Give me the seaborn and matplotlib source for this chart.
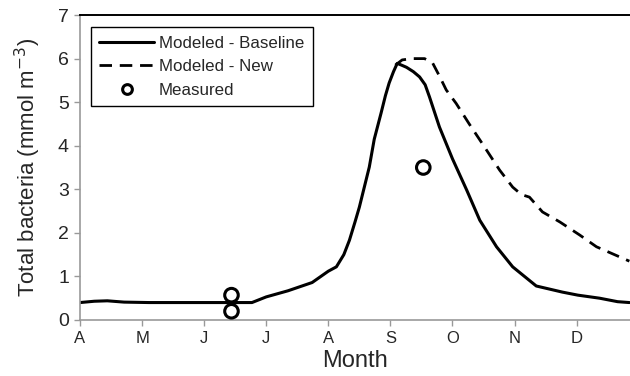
import numpy as np
import pandas as pd
import matplotlib
matplotlib.use("Agg")
import matplotlib.pyplot as plt
from matplotlib.lines import Line2D
import seaborn as sns

# ---- data (x in months since start of April) ----
base_month = [0.00, 0.23, 0.44, 0.71, 1.11, 1.92, 2.77, 3.00, 3.35, 3.74, 4.00, 4.13,
              4.25, 4.34, 4.43, 4.50, 4.58, 4.66, 4.74, 4.85, 4.92, 4.98, 5.05, 5.11,
              5.18, 5.26, 5.37, 5.47, 5.56, 5.63, 5.79, 6.00, 6.23, 6.44, 6.71, 6.97,
              7.35, 7.77, 8.02, 8.37, 8.66, 8.85]
base_value = [0.40, 0.43, 0.44, 0.41, 0.40, 0.40, 0.40, 0.53, 0.67, 0.86, 1.12, 1.22,
              1.50, 1.83, 2.25, 2.59, 3.05, 3.51, 4.15, 4.75, 5.15, 5.44, 5.70, 5.89,
              5.85, 5.80, 5.70, 5.58, 5.40, 5.12, 4.43, 3.70, 2.98, 2.29, 1.68, 1.22,
              0.78, 0.64, 0.57, 0.50, 0.42, 0.40]

new_month = [5.08, 5.19, 5.35, 5.55, 5.68, 5.79, 5.90, 6.06, 6.27, 6.48, 6.76, 6.97,
             7.11, 7.24, 7.45, 7.73, 8.05, 8.32, 8.69, 8.85]
new_value = [5.85, 5.97, 6.00, 6.00, 5.90, 5.60, 5.28, 4.97, 4.50, 4.05, 3.44, 3.05,
             2.88, 2.82, 2.48, 2.25, 1.95, 1.68, 1.45, 1.35]

meas_month = [2.44, 2.44, 5.53]
meas_value = [0.57, 0.20, 3.50]

tick_labels = ["A", "M", "J", "J", "A", "S", "O", "N", "D"]

# ---- plot ----
sns.set_style("ticks")
plt.rcParams["font.family"] = ["Liberation Sans", "DejaVu Sans"]

fig = plt.figure(figsize=(6.30, 3.76), dpi=100)
ax = fig.add_axes([0.127, 0.149, 0.873, 0.811])

base_df = pd.DataFrame({"month": base_month, "value": base_value})
new_df = pd.DataFrame({"month": new_month, "value": new_value})
meas_df = pd.DataFrame({"month": meas_month, "value": meas_value})

sns.lineplot(data=new_df, x="month", y="value", ax=ax, color="black", lw=2.0,
             estimator=None, sort=False, linestyle=(0, (4.5, 2.8)))
sns.lineplot(data=base_df, x="month", y="value", ax=ax, color="black", lw=2.2,
             estimator=None, sort=False)
sns.scatterplot(data=meas_df, x="month", y="value", ax=ax, s=95, marker="o",
                facecolor="none", edgecolor="black", linewidth=2.2, zorder=5)

ax.set_xlim(0, 8.86)
ax.set_ylim(0, 7)
ax.set_xticks(range(len(tick_labels)))
ax.set_xticklabels(tick_labels, fontsize=12)
ax.set_yticks(range(0, 8))
ax.tick_params(axis="y", labelsize=14, length=4, color="#999999", width=1, pad=4)
ax.tick_params(axis="x", length=4, color="#999999", width=1, pad=4)

for s in ["left", "bottom"]:
    ax.spines[s].set_color("#999999")
    ax.spines[s].set_linewidth(1.2)
ax.spines["top"].set_visible(True)
ax.spines["top"].set_color("black")
ax.spines["top"].set_linewidth(1.4)
ax.spines["right"].set_visible(False)

ax.set_xlabel("Month", fontsize=17, labelpad=3)
ax.set_ylabel("Total bacteria (mmol m$^{-3}$)", fontsize=16, labelpad=11)

handles = [
    Line2D([], [], color="black", lw=2.2),
    Line2D([], [], color="black", lw=2.0, linestyle=(0, (4.5, 2.8))),
    Line2D([], [], color="black", lw=0, marker="o", markersize=7,
           markerfacecolor="none", markeredgewidth=2.2),
]
leg = ax.legend(handles, ["Modeled - Baseline", "Modeled - New", "Measured"],
                loc="upper left", bbox_to_anchor=(0.02, 0.96), fontsize=12.2,
                frameon=True, fancybox=False, edgecolor="black", framealpha=1,
                handlelength=3.2, handletextpad=0.3, borderpad=0.5,
                labelspacing=0.5, borderaxespad=0)
leg.get_frame().set_linewidth(1.0)

fig.savefig("out.png", dpi=100)
